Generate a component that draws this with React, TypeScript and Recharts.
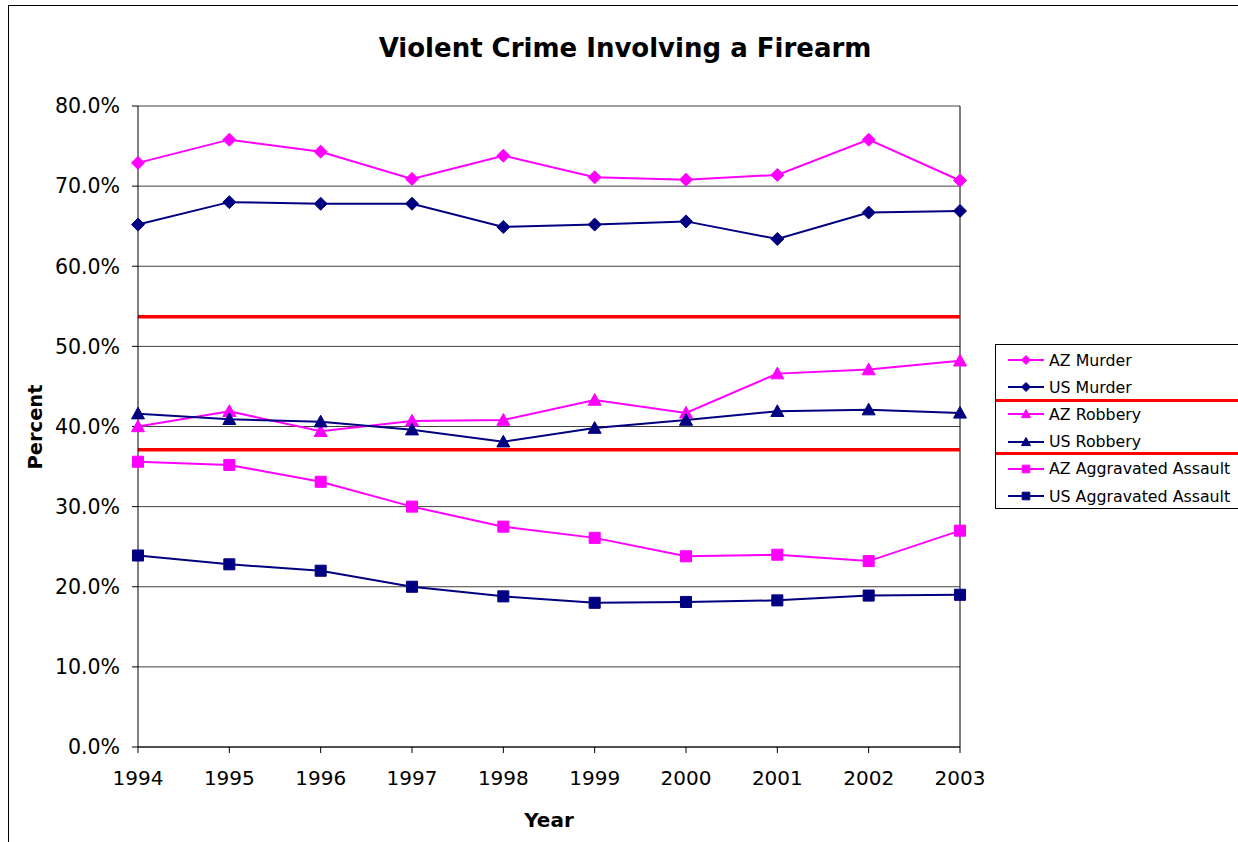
import React from 'react';
import {
  LineChart,
  Line,
  XAxis,
  YAxis,
  CartesianGrid,
  ReferenceLine
} from 'recharts';

// Share of violent crimes committed with a firearm, Arizona vs. US (percent)
const years = ['1994', '1995', '1996', '1997', '1998', '1999', '2000', '2001', '2002', '2003'];
const azMurder = [72.9, 75.8, 74.3, 70.9, 73.8, 71.1, 70.8, 71.4, 75.8, 70.7];
const usMurder = [65.2, 68.0, 67.8, 67.8, 64.9, 65.2, 65.6, 63.4, 66.7, 66.9];
const azRobbery = [40.0, 41.9, 39.4, 40.7, 40.8, 43.3, 41.7, 46.6, 47.1, 48.2];
const usRobbery = [41.6, 40.9, 40.6, 39.6, 38.1, 39.8, 40.8, 41.9, 42.1, 41.7];
const azAssault = [35.6, 35.2, 33.1, 30.0, 27.5, 26.1, 23.8, 24.0, 23.2, 27.0];
const usAssault = [23.9, 22.8, 22.0, 20.0, 18.8, 18.0, 18.1, 18.3, 18.9, 19.0];

// Red guide lines separating the crime groups
const guideLevels = [53.7, 37.1];

const yTicks = [0, 10, 20, 30, 40, 50, 60, 70, 80];

const MAGENTA = '#FF00FF';
const NAVY = '#000080';
const FONT = '"DejaVu Sans", Verdana, sans-serif';

type Shape = 'diamond' | 'triangle' | 'square';

const series: { key: string; name: string; values: number[]; color: string; shape: Shape }[] = [
  { key: 'azMurder', name: 'AZ Murder', values: azMurder, color: MAGENTA, shape: 'diamond' },
  { key: 'usMurder', name: 'US Murder', values: usMurder, color: NAVY, shape: 'diamond' },
  { key: 'azRobbery', name: 'AZ Robbery', values: azRobbery, color: MAGENTA, shape: 'triangle' },
  { key: 'usRobbery', name: 'US Robbery', values: usRobbery, color: NAVY, shape: 'triangle' },
  { key: 'azAssault', name: 'AZ Aggravated Assault', values: azAssault, color: MAGENTA, shape: 'square' },
  { key: 'usAssault', name: 'US Aggravated Assault', values: usAssault, color: NAVY, shape: 'square' }
];

const data = years.map((year, i) => {
  const row: Record<string, string | number> = { year };
  series.forEach(s => {
    row[s.key] = s.values[i];
  });
  return row;
});

const markerPath = (shape: Shape, cx: number, cy: number, r: number) => {
  switch (shape) {
    case 'diamond':
      return `M${cx},${cy - r}L${cx + r},${cy}L${cx},${cy + r}L${cx - r},${cy}Z`;
    case 'triangle':
      return `M${cx},${cy - r}L${cx + r},${cy + r * 0.8}L${cx - r},${cy + r * 0.8}Z`;
    case 'square':
      return `M${cx - r * 0.85},${cy - r * 0.85}h${r * 1.7}v${r * 1.7}h${-r * 1.7}Z`;
  }
};

const makeDot = (shape: Shape, color: string) => (props: any) => {
  const { cx, cy, index } = props;
  if (cx == null || cy == null) return <g key={`d-${index}`} />;
  return <path key={`d-${index}`} d={markerPath(shape, cx, cy, 6.5)} fill={color} stroke={color} />;
};

const LegendBox = () => (
  <div
    style={{
      position: 'absolute',
      left: 995,
      top: 344,
      width: 260,
      height: 163,
      border: '1px solid #000',
      background: '#fff',
      fontFamily: FONT,
      fontSize: 15.8
    }}
  >
    {series.map((s, i) => (
      <div
        key={s.key}
        style={{ position: 'absolute', left: 11, top: 4 + i * 27.2, height: 22, display: 'flex', alignItems: 'center' }}
      >
        <svg width={38} height={20}>
          <line x1={1} y1={10} x2={37} y2={10} stroke={s.color} strokeWidth={2} />
          <path d={markerPath(s.shape, 19, 10, 4.5)} fill={s.color} stroke={s.color} />
        </svg>
        <span style={{ marginLeft: 4, whiteSpace: 'nowrap', color: '#000' }}>{s.name}</span>
      </div>
    ))}
    <div style={{ position: 'absolute', left: 0, right: 0, top: 54, height: 3, background: '#FF0000' }} />
    <div style={{ position: 'absolute', left: 0, right: 0, top: 107, height: 3, background: '#FF0000' }} />
  </div>
);

const App: React.FC = () => {
  return (
    <div
      style={{
        position: 'absolute',
        left: 0,
        top: 0,
        width: 1238,
        height: 842,
        overflow: 'hidden',
        background: '#fff',
        fontFamily: FONT
      }}
    >
      <div
        style={{
          position: 'absolute',
          left: 8,
          top: 5,
          width: 1260,
          height: 860,
          border: '1px solid #000'
        }}
      />
      <div
        style={{
          position: 'absolute',
          left: 625,
          top: 48,
          transform: 'translate(-50%, -50%)',
          whiteSpace: 'nowrap',
          fontSize: 26,
          fontWeight: 'bold',
          color: '#000'
        }}
      >
        Violent Crime Involving a Firearm
      </div>
      <div
        style={{
          position: 'absolute',
          left: 35,
          top: 427,
          transform: 'translate(-50%, -50%) rotate(-90deg)',
          fontSize: 19.5,
          fontWeight: 'bold',
          whiteSpace: 'nowrap'
        }}
      >
        Percent
      </div>
      <div
        style={{
          position: 'absolute',
          left: 549,
          top: 820,
          transform: 'translate(-50%, -50%)',
          fontSize: 20,
          fontWeight: 'bold'
        }}
      >
        Year
      </div>

      <div style={{ position: 'absolute', left: 0, top: 0 }}>
        <LineChart
          width={1238}
          height={842}
          data={data}
          margin={{ top: 106, right: 278, bottom: 55, left: 38 }}
        >
          <CartesianGrid vertical={false} stroke="#000" strokeOpacity={0.75} />
          <XAxis
            dataKey="year"
            height={40}
            stroke="#000"
            tickLine={{ stroke: '#000' }}
            tickSize={6}
            tickMargin={18}
            tick={{ fill: '#000', fontSize: 20, fontFamily: FONT }}
            interval={0}
          />
          <YAxis
            width={100}
            domain={[0, 80]}
            ticks={yTicks}
            stroke="#000"
            tickSize={6}
            tickMargin={12}
            tick={{ fill: '#000', fontSize: 20.5, fontFamily: FONT }}
            tickFormatter={(v: number) => `${v.toFixed(1)}%`}
          />
          <ReferenceLine x="2003" stroke="#000" />
          {guideLevels.map(level => (
            <ReferenceLine key={level} y={level} stroke="#FF0000" strokeWidth={3.5} />
          ))}
          {series.map(s => (
            <Line
              key={s.key}
              type="linear"
              dataKey={s.key}
              name={s.name}
              stroke={s.color}
              strokeWidth={2}
              dot={makeDot(s.shape, s.color)}
              activeDot={false}
              isAnimationActive={false}
            />
          ))}
        </LineChart>
      </div>
      <LegendBox />
    </div>
  );
};

export default App;
